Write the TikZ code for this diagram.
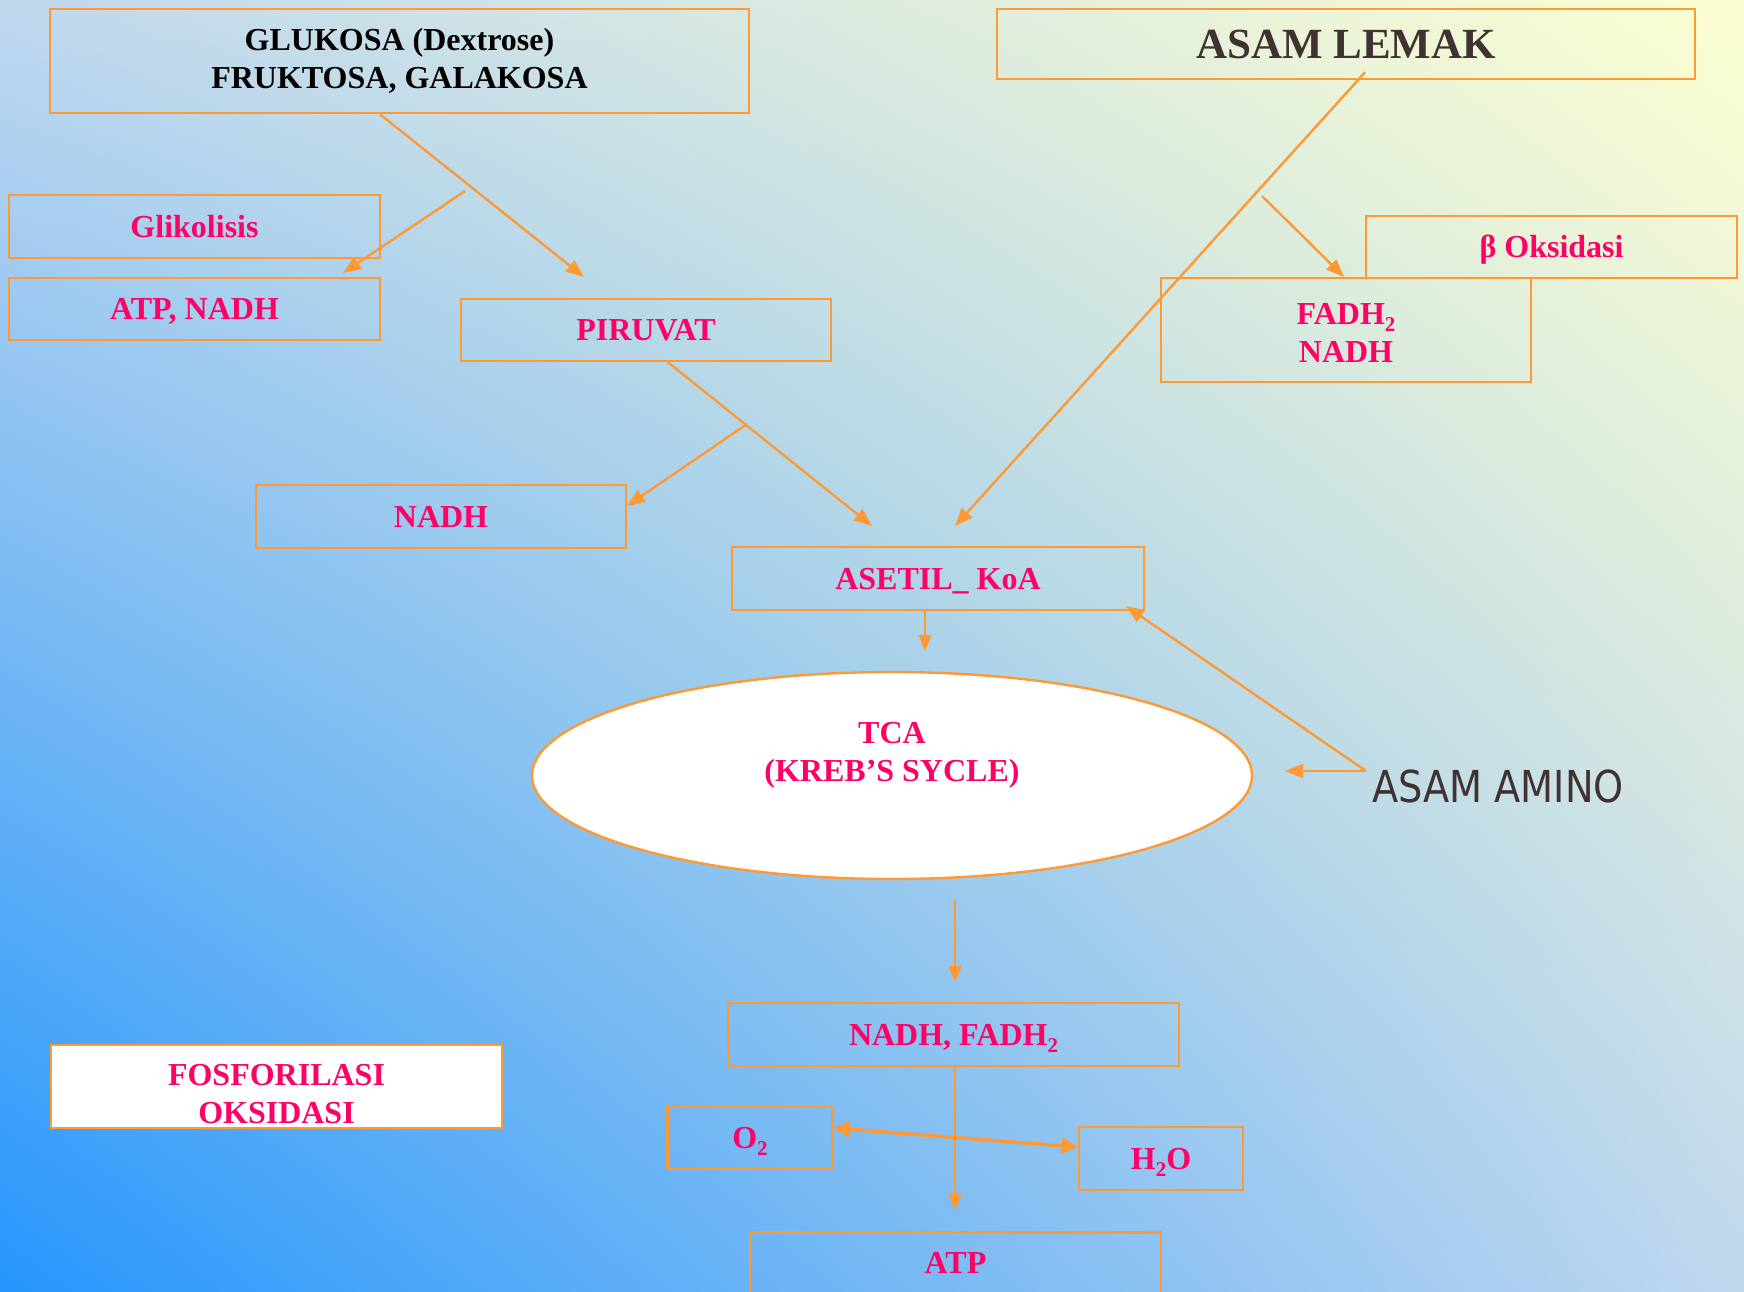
\documentclass[tikz,border=0pt]{standalone}
\usepackage{fontspec}
\setmainfont{Liberation Serif}
\newfontfamily\aminofont{DejaVu Sans}
\usetikzlibrary{arrows.meta,shapes.geometric,shadings}
\definecolor{bgblue}{RGB}{38,150,252}
\definecolor{bgmid}{RGB}{192,216,238}
\definecolor{bgyel}{RGB}{252,255,208}
\definecolor{lineorange}{RGB}{255,153,51}
\definecolor{txtpink}{RGB}{255,0,102}
\definecolor{txtdark}{RGB}{64,50,50}
\newcommand{\sbs}[1]{\raisebox{-7pt}{\fontsize{21}{21}\selectfont #1}}
\tikzset{
  box/.style={draw=lineorange, line width=2.6pt, rectangle, inner sep=0pt, align=center,
    text=txtpink, font=\fontsize{32}{38}\selectfont\bfseries},
  sbox/.style={box, text height=21.5pt, text depth=0pt},
  boxtext/.style={align=center, inner sep=0pt, text=txtpink, font=\fontsize{32}{38}\selectfont\bfseries},
  conn/.style={draw=lineorange, line width=2.4pt, -{Triangle[length=18pt,width=14pt]}},
  thinconn/.style={draw=lineorange, line width=1.6pt, -{Triangle[length=16pt,width=13pt]}},
  dblconn/.style={draw=lineorange, line width=3.5pt, {Triangle[length=16pt,width=16pt]}-{Triangle[length=16pt,width=16pt]}},
}
\begin{document}
\begin{tikzpicture}[x=1pt,y=-1pt]
\useasboundingbox (0,0) rectangle (1744,1291);
\clip (0,0) rectangle (1744,1291);
\shade[lower left=bgblue, upper right=bgyel, upper left=bgmid, lower right=bgmid] (0,0) rectangle (1744,1291);

% boxes
\node[box, minimum width=699pt, minimum height=104pt, text=black] (glu) at (399.5,61) {GLUKOSA (Dextrose)\\FRUKTOSA, GALAKOSA};
\node[sbox, minimum width=698pt, minimum height=70pt, text=txtdark, text height=28.5pt, font=\fontsize{43}{50}\selectfont\bfseries] (lemak) at (1346,44) {ASAM LEMAK};
\node[sbox, minimum width=371pt, minimum height=63pt] (glik) at (194.5,226.5) {Glikolisis};
\node[sbox, minimum width=371pt, minimum height=62pt] (atpnadh) at (194.5,309) {ATP, NADH};
\node[sbox, minimum width=370pt, minimum height=62pt] (piruvat) at (646,330) {PIRUVAT};
\node[sbox, minimum width=371pt, minimum height=62pt] (boks) at (1551.5,247) {β Oksidasi};
\node[box, minimum width=370pt, minimum height=104pt] (fadh) at (1346,330) {};
\node[boxtext] (fadhtext) at ([yshift=-3pt]fadh.center) {FADH\sbs{2}\\NADH};
\node[sbox, minimum width=370pt, minimum height=63pt] (nadh) at (441,516.5) {NADH};
\node[sbox, minimum width=412pt, minimum height=63pt] (asetil) at (938,578.5) {ASETIL\_ KoA};
\node[draw=lineorange, line width=2.4pt, ellipse, fill=white, minimum width=720pt, minimum height=207pt, inner sep=0pt] (tca) at (892,775.5) {};
\node[boxtext] (tcatext) at ([yshift=20pt]tca.center) {TCA\\(KREB’S SYCLE)};
\node[anchor=base, text=txtdark, inner sep=0pt, font=\fontsize{44}{50}\aminofont] (amino) at (1498,802) {\scalebox{0.87}[1]{ASAM AMINO}};
\node[sbox, minimum width=451pt, minimum height=63pt] (nadhfadh) at (953.5,1034.5) {NADH, FADH\sbs{2}};
\node[box, fill=white, minimum width=451pt, minimum height=83pt] (fosf) at (276.5,1086.5) {};
\node[boxtext] (fosftext) at ([yshift=-8pt]fosf.center) {FOSFORILASI\\OKSIDASI};
\node[sbox, minimum width=164.5pt, minimum height=62pt] (o2) at (750,1138) {O\sbs{2}};
\node[sbox, minimum width=164pt, minimum height=63pt] (h2o) at (1161,1158.5) {H\sbs{2}O};
\node[box, anchor=north, minimum width=411pt, text height=22pt, text depth=60pt, inner ysep=19pt] (atp) at (955.5,1231) {ATP};

% connector points
\coordinate (gp) at (584,277);
\coordinate (gbs) at (465,191);
\coordinate (gbe) at (343,273);
\coordinate (pa) at (872,526);
\coordinate (pbs) at (747,424);
\coordinate (pbe) at (627,506);
\coordinate (la) at (955,526);
\coordinate (lbs) at (1262,196);
\coordinate (lbe) at (1344,277);
\coordinate (ae) at (925,651);
\coordinate (am) at (1366,771);
\coordinate (amA) at (1126,606);
\coordinate (amT) at (1285,771);
\coordinate (ts) at (955,900);
\coordinate (te) at (955,982);
\coordinate (ne) at (955,1210);

% connectors
\draw[conn] ([xshift=-19.5pt]glu.south) -- (gp);
\draw[conn] (gbs) -- (gbe);
\draw[conn] ([xshift=22pt]piruvat.south) -- (pa);
\draw[conn] (pbs) -- (pbe);
\draw[conn] ([xshift=19pt,yshift=8pt]lemak.south) -- (la);
\draw[conn] (lbs) -- (lbe);
\draw[thinconn] ([xshift=-13pt]asetil.south) -- (ae);
\draw[conn] (am) -- (amA);
\draw[conn] (am) -- (amT);
\draw[thinconn] (ts) -- (te);
\draw[thinconn] ([xshift=1.5pt]nadhfadh.south) -- (ne);
\draw[dblconn] (o2.east |- 0,1128) -- (h2o.west |- 0,1147);
\end{tikzpicture}
\end{document}
